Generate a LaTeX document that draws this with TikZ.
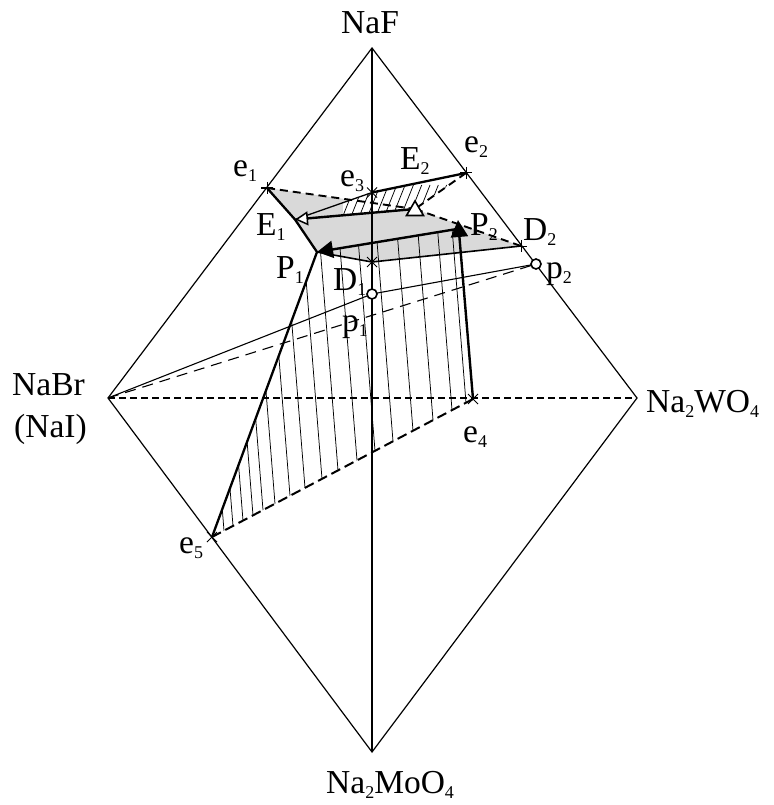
\documentclass[tikz,border=0pt]{standalone}
\usepackage{fontspec}
\setmainfont{Liberation Serif}
\usetikzlibrary{arrows.meta}
\newcommand\mysb[1]{\raisebox{-5pt}{\fontsize{18}{18}\selectfont #1}}
\begin{document}
\begin{tikzpicture}[x=1pt,y=-1pt,
  lbl/.style={inner sep=0pt, anchor=base west, font=\fontsize{33.5}{40}\selectfont},
  thinln/.style={line width=1.2pt},
  thickln/.style={line width=2.3pt},
  medln/.style={line width=1.6pt},
  dashthick/.style={line width=1.9pt, dash pattern=on 8pt off 5pt},
  hatchln/.style={line width=0.75pt},
  crossln/.style={line width=1pt}]
\useasboundingbox (0,0) rectangle (773,805);
% vertices
\coordinate (vF) at (372,48);
\coordinate (vBr) at (108,398);
\coordinate (vW) at (637,398);
\coordinate (vMo) at (372,752);
% points
\coordinate (e1) at (267,188);
\coordinate (e2) at (466,173);
\coordinate (e3) at (372,192.5);
\coordinate (E1) at (295,219.5);
\coordinate (E2) at (415,209);
\coordinate (P2) at (458,220);
\coordinate (P2c) at (457,229);
\coordinate (P1) at (317,252);
\coordinate (D1) at (372,262);
\coordinate (D2) at (521,246);
\coordinate (p1) at (372,294);
\coordinate (p2) at (536,264);
\coordinate (e4) at (473,399);
\coordinate (e5) at (212,537);
\coordinate (Ha) at (343,215.3);
\coordinate (Hb) at (343,202.7);
% gray region
\fill[black!15] (e1) -- (E1) -- (P1) -- (D1) -- (D2) -- (E2) -- cycle;
% small hatched region
\fill[white] (Ha) -- (Hb) -- (e3) -- (e2) -- (E2) -- cycle;
\begin{scope}
  \clip (Ha) -- (Hb) -- (e3) -- (e2) -- (E2) -- cycle;
  \foreach \xa in {335,343.3,...,465} {
    \draw[hatchln] ({\xa-4},225) -- ({\xa+12},185);
  }
\end{scope}
% big hatched region
\begin{scope}
  \clip (P1) -- (P2c) -- (e4) -- (e5) -- cycle;
  \foreach \xb in {224,233,243,253,263,275,290,305,322,338,357,375,393,413,433,452,466} {
    \pgfmathsetmacro\yb{537-(\xb-212)*0.5287}
    \draw[hatchln] ({\xb+4},{\yb+50}) -- ({\xb-28},{\yb-350});
  }
\end{scope}
% frame
\draw[thinln] (vF) -- (vBr) -- (vMo) -- (vW) -- cycle;
\draw[line width=1.1pt] (vF) -- (vMo);
\draw[line width=1.1pt, dash pattern=on 7pt off 4pt] (vBr) -- (vW);
\draw[line width=1.1pt] (vBr) -- (p1) -- (p2);
\draw[line width=1.1pt, dash pattern=on 11pt off 7pt] (vBr) -- (p2);
% curves
\draw[thickln, line join=round] (e1) -- (E1) -- (P1) -- (e5);
\draw[line width=2pt, dash pattern=on 10pt off 5pt] (e5) -- (e4);
\draw[medln] (P1) -- (D1) -- (D2);
\draw[line width=1.3pt] (E1) -- (e3);
\draw[thickln] (e3) -- (e2);
\draw[dashthick] (e1) -- (E2);
\draw[dashthick] (e2) -- (E2);
\draw[dashthick] (E2) -- (D2);
\draw[line width=2.4pt, -{Triangle[length=17pt,width=17pt]}] (e4) -- (P2);
\draw[line width=2.4pt, -{Triangle[length=16pt,width=17pt]}] (P2c) -- (P1);
\draw[line width=2.4pt, -{Triangle[length=13pt,width=14pt,fill=white,line width=1.5pt]}] (E2) -- (E1);
% E2 marker
\draw[line width=1.6pt, fill=white, line join=miter] ([shift={(0,-8)}]E2) -- ([shift={(8.5,6.5)}]E2) -- ([shift={(-8.5,6.5)}]E2) -- cycle;
% circles
\draw[line width=1.6pt, fill=white] (p1) circle[radius=5];
\draw[line width=1.6pt, fill=white] (p2) circle[radius=5];
% crosses
\foreach \pt in {e1,e2,D2} {
  \draw[crossln] ([shift={(-6,0)}]\pt) -- ([shift={(6,0)}]\pt);
  \draw[crossln] ([shift={(0,-6)}]\pt) -- ([shift={(0,6)}]\pt);
}
\foreach \pt in {e3,D1,e4,e5} {
  \draw[crossln] ([shift={(-5,-5)}]\pt) -- ([shift={(5,5)}]\pt);
  \draw[crossln] ([shift={(-5,5)}]\pt) -- ([shift={(5,-5)}]\pt);
}
% labels
\node[lbl] (lNaF) at (341,34) {NaF};
\node[lbl] (lMo) at (326,793) {Na\mysb{2}MoO\mysb{4}};
\node[lbl] (lBr) at (12,395) {NaBr};
\node[lbl] (lI) at (14,437) {(NaI)};
\node[lbl] (lW) at (646,412) {Na\mysb{2}WO\mysb{4}};
\node[lbl] (le1) at (233,177) {e\mysb{1}};
\node[lbl] (le2) at (464,153) {e\mysb{2}};
\node[lbl] (le3) at (340,186) {e\mysb{3}};
\node[lbl] (lE2) at (400,170) {E\mysb{2}};
\node[lbl] (lE1) at (256,235) {E\mysb{1}};
\node[lbl] (lP2) at (470,235) {P\mysb{2}};
\node[lbl] (lD2) at (523,240) {D\mysb{2}};
\node[lbl] (lP1) at (276,278) {P\mysb{1}};
\node[lbl] (lD1) at (333,290) {D\mysb{1}};
\node[lbl] (lp1) at (342,331) {p\mysb{1}};
\node[lbl] (lp2) at (546,278) {p\mysb{2}};
\node[lbl] (le4) at (463,442) {e\mysb{4}};
\node[lbl] (le5) at (179,553) {e\mysb{5}};
\end{tikzpicture}
\end{document}
